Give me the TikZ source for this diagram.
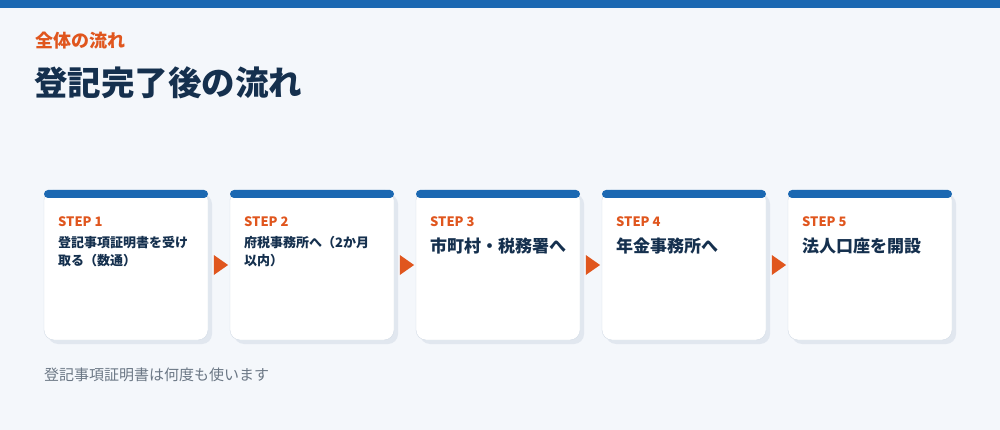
\documentclass[tikz,border=0pt]{standalone}
\usepackage{fontspec}
\setmainfont{Noto Sans CJK JP}
\usetikzlibrary{shapes.geometric,calc}
\definecolor{fundo}{HTML}{F4F7FB}
\definecolor{azul}{HTML}{1B68B2}
\definecolor{laranja}{HTML}{E0561E}
\definecolor{marinho}{HTML}{15304E}
\definecolor{cinza}{HTML}{6B7785}
\definecolor{sombra}{HTML}{E1E7EF}
\definecolor{borda}{HTML}{D3DCE6}
\tikzset{
  cartao/.style={draw=borda,fill=white,rounded corners=10pt,minimum width=164pt,minimum height=150pt},
  passo/.style={anchor=base west,inner sep=0pt,text=laranja,font=\fontsize{13}{13}\selectfont\bfseries},
  textop/.style={anchor=north west,inner sep=0pt,text=marinho,align=left,font=\fontsize{13}{18}\selectfont\bfseries},
  textog/.style={anchor=north west,inner sep=0pt,text=marinho,font=\fontsize{17}{20}\selectfont\bfseries},
  seta/.style={isosceles triangle,isosceles triangle apex angle=70,fill=laranja,inner sep=0pt,minimum height=13pt,minimum width=20pt}
}
\begin{document}
\begin{tikzpicture}[x=1pt,y=-1pt]
%fundo e faixa superior
 \fill[fundo] (0,0) rectangle (1000,430);
 \useasboundingbox (0,0) rectangle (1000,430);
 \fill[azul] (0,0) rectangle (1000,8);
%titulos
 \node[anchor=base west,inner sep=0pt,text=laranja,font=\fontsize{18}{18}\selectfont\bfseries] (sub) at (35,48) {全体の流れ};
 \node[anchor=base west,inner sep=0pt,text=marinho,font=\fontsize{33.5}{33.5}\selectfont\bfseries] (titulo) at (34,96) {登記完了後の流れ};
%cartoes
 \foreach \i in {1,...,5}{
   \pgfmathsetmacro\xe{44+186*(\i-1)}
   \fill[sombra,rounded corners=10pt] (\xe+4,194) rectangle (\xe+168,344);
   \node[cartao] (card\i) at (\xe+82,265) {};
   \fill[azul,rounded corners=4pt] (\xe,190) rectangle (\xe+164,198);
   \node[passo] (passo\i) at (\xe+14,226) {STEP \i};
 }
%textos dos cartoes
 \node[textop] (txt1) at (58,236) {登記事項証明書を受け\\取る（数通）};
 \node[textop] (txt2) at (244,236) {府税事務所へ（2か月\\以内）};
 \node[textog] (txt3) at (430,238) {市町村・税務署へ};
 \node[textog] (txt4) at (616,238) {年金事務所へ};
 \node[textog] (txt5) at (802,238) {法人口座を開設};
%setas entre cartoes
 \foreach \i in {1,...,4}{
   \pgfmathtruncatemacro\j{\i+1}
   \node[seta] (seta\i) at ($(card\i.east)!0.5!(card\j.west)$) {};
 }
%nota
 \node[anchor=base west,inner sep=0pt,text=cinza,font=\fontsize{15}{15}\selectfont] (nota) at (44,380) {登記事項証明書は何度も使います};
\end{tikzpicture}
\end{document}
